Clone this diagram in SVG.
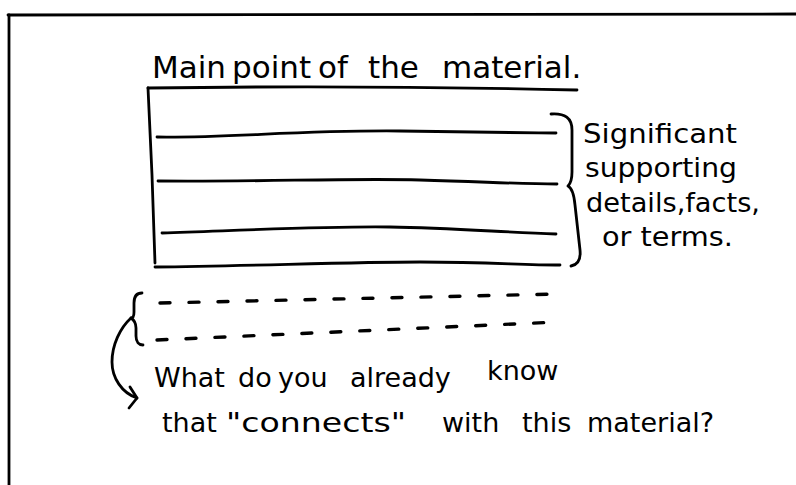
<svg xmlns="http://www.w3.org/2000/svg" width="796" height="485" viewBox="0 0 796 485">
<style>
.ink{fill:none;stroke:#000;stroke-width:2.8;stroke-linecap:round;stroke-linejoin:round}
.dash{fill:none;stroke:#000;stroke-width:3.4;stroke-dasharray:10 19;stroke-linecap:round}
text{font-family:"DejaVu Sans","Liberation Sans",sans-serif;fill:#000}
.title{font-size:31px}
.note{font-size:26px}
.q{font-size:27px}
</style>
<rect width="796" height="485" fill="#fff"/>
<g id="frame">
<path class="ink" d="M8,15 L796,14"/>
<path class="ink" d="M9,15 L9,485"/>
</g>
<g id="title">
<text class="title" y="78"><tspan x="152">Main</tspan><tspan x="232">point</tspan><tspan x="318">of</tspan><tspan x="368">the</tspan><tspan x="442">material.</tspan></text>
</g>
<g id="main-box">
<path class="ink" d="M148,88 Q360,85 577,90"/>
<path class="ink" d="M148,88 L152,175 L155,263"/>
<path class="ink" d="M157,137 C230,138 300,130 400,131 S520,133 556,133"/>
<path class="ink" d="M158,181 C260,182 350,178 420,180 S520,184 557,184"/>
<path class="ink" d="M162,233 C250,230 330,226 390,227 S500,232 556,234"/>
<path class="ink" d="M155,267 C250,266 350,262 420,262 S520,265 560,265"/>
</g>
<g id="details">
<path class="ink" d="M551,114 C565,113 572,118 572,130 L572,172 C572,180 570,184 568,186 C572,188 574,194 575,205 L580,250 C581,260 577,265 571,266"/>
<text class="note" x="583" y="143" textLength="154" lengthAdjust="spacingAndGlyphs">Significant</text>
<text class="note" x="585" y="177" textLength="152" lengthAdjust="spacingAndGlyphs">supporting</text>
<text class="note" x="586" y="212" textLength="174" lengthAdjust="spacingAndGlyphs">details,facts,</text>
<text class="note" x="602" y="246" textLength="131" lengthAdjust="spacingAndGlyphs">or terms.</text>
</g>
<g id="prior-knowledge">
<path class="dash" d="M160,303 L558,294"/>
<path class="dash" d="M157,340 L558,322"/>
<path class="ink" d="M142,293 C136,293 134,297 134,303 L134,312 C134,316 133,318 131,318 C134,320 136,323 136,328 L136,336 C136,342 139,345 143,345"/>
</g>
<g id="connectors">
<path class="ink" d="M131,318 C120,328 112,345 112,362 C112,378 122,393 137,398"/>
<path class="ink" d="M130,387 L137,398 L129,408"/>
</g>
<g id="question">
<text class="q" y="387"><tspan x="154">What</tspan><tspan x="238">do</tspan><tspan x="278">you</tspan><tspan x="350">already</tspan></text>
<text class="q" x="487" y="380">know</text>
<text class="q" y="432"><tspan x="162">that</tspan></text>
<text class="q" x="226" y="432" textLength="180" lengthAdjust="spacingAndGlyphs">"connects"</text>
<text class="q" y="432"><tspan x="442">with</tspan><tspan x="522">this</tspan><tspan x="587">material?</tspan></text>
</g>
</svg>
